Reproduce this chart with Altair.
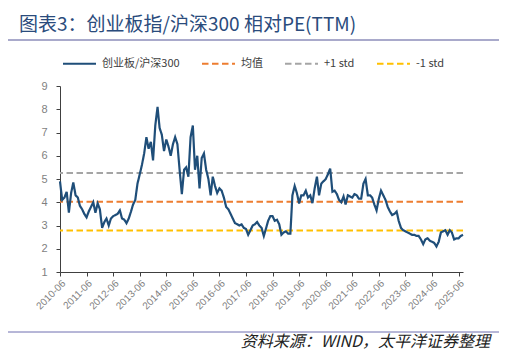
import altair as alt
import pandas as pd

# ---- data ----
start_month = "2010-06-01"
pe_values = [
    4.9, 4.1, 4.2, 4.45, 3.55, 4.4, 4.85, 4.3, 4.2, 3.85, 3.7, 3.5,
    3.35, 3.6, 3.8, 4.0, 3.55, 3.95, 3.7, 2.9, 3.15, 3.3, 3.0, 3.3,
    3.4, 3.45, 3.5, 3.65, 3.3, 3.25, 3.1, 3.3, 3.6, 3.9, 4.1, 4.8,
    5.2, 5.6, 6.1, 6.8, 6.3, 6.6, 5.8, 7.3, 8.1, 7.2, 6.9, 6.2,
    6.7, 6.4, 6.0, 6.5, 6.8, 6.5, 5.4, 4.35, 5.4, 5.5, 5.1, 6.8,
    7.3, 5.4, 6.0, 4.6, 5.9, 6.1, 5.4, 5.0, 4.3, 5.1, 4.7, 4.4,
    4.6, 4.5, 4.2, 3.8, 3.7, 3.5, 3.3, 3.1, 3.05, 3.0, 3.05, 2.9,
    2.85, 2.6, 2.8, 3.0, 3.05, 3.15, 3.0, 2.9, 2.55, 2.85, 3.2, 3.4,
    3.4, 3.2, 3.25, 3.05, 2.6, 2.7, 2.75, 2.65, 2.65, 4.3, 4.7, 4.4,
    3.95, 4.3, 4.3, 4.5, 4.2, 4.3, 3.96, 4.6, 5.1, 4.3, 4.8, 4.9,
    5.0, 5.2, 5.45, 4.45, 4.5, 4.35, 4.1, 4.0, 4.25, 3.9, 4.3, 4.25,
    4.2, 4.35, 4.3, 4.15, 4.15, 4.8, 5.0, 4.3, 4.3, 4.2, 3.9, 3.65,
    4.15, 4.5, 4.3, 4.1, 3.8, 3.6, 3.45, 3.5, 3.6, 3.2, 2.9, 2.8,
    2.75, 2.7, 2.65, 2.6, 2.6, 2.55, 2.55, 2.4, 2.2, 2.4, 2.45, 2.35,
    2.3, 2.25, 2.1, 2.3, 2.7, 2.75, 2.8, 2.6, 2.8, 2.7, 2.4, 2.45,
    2.45, 2.55, 2.6,
]
series_names = ["创业板/沪深300", "均值", "+1 std", "-1 std"]
ref_values = [4.02, 5.26, 2.79]
year_ticks = list(range(2010, 2026))
y_ticks = [1, 2, 3, 4, 5, 6, 7, 8, 9]
title_text = "图表3：创业板指/沪深300 相对PE(TTM)"
source_text = "资料来源：WIND，太平洋证券整理"

# ---- tables ----
dates = pd.date_range(start_month, periods=len(pe_values), freq="MS")
line_df = pd.DataFrame({"date": dates, "value": pe_values, "series": series_names[0]})
ref_df = pd.DataFrame({"value": ref_values, "series": series_names[1:]})

colors = ["#1F4E79", "#ED7D31", "#A5A5A5", "#FFC000"]
dashes = [[1, 0], [6.5, 3.5], [6.5, 3.5], [6.5, 3.5]]

color_enc = alt.Color("series:N", scale=alt.Scale(domain=series_names, range=colors), title=None)
dash_enc = alt.StrokeDash("series:N", scale=alt.Scale(domain=series_names, range=dashes), title=None)

x_enc = alt.X(
    "date:T",
    title=None,
    scale=alt.Scale(domain=[alt.DateTime(year=2010, month=6, date=1),
                            alt.DateTime(year=2025, month=8, date=1)]),
    axis=alt.Axis(values=[alt.DateTime(year=y, month=6, date=1) for y in year_ticks],
                  format="%Y-%m", labelAngle=315, grid=False, labelFontSize=10,
                  labelPadding=2, labelOverlap=False),
)
y_scale = alt.Scale(domain=[1, 9], nice=False, zero=False)
y_axis = alt.Axis(values=y_ticks, grid=False, labelPadding=9, labelOverlap=False)

line = alt.Chart(line_df).mark_line(strokeWidth=2.2).encode(
    x=x_enc,
    y=alt.Y("value:Q", scale=y_scale, axis=y_axis, title=None),
    color=color_enc,
    strokeDash=dash_enc,
)

refs = alt.Chart(ref_df).mark_rule(strokeWidth=2).encode(
    y=alt.Y("value:Q", scale=y_scale, axis=y_axis, title=None),
    color=color_enc,
    strokeDash=dash_enc,
)

title = alt.Chart(pd.DataFrame({"t": [title_text]})).mark_text(
    align="left", baseline="middle", fontSize=19, color="#2A4B7C",
    font="Noto Sans CJK SC",
).encode(x=alt.value(-41), y=alt.value(-61), text="t:N")

title_rule = alt.Chart(pd.DataFrame({"a": [0]})).mark_rule(
    color="#A9AACB", strokeWidth=2
).encode(x=alt.value(-55), x2=alt.value(441), y=alt.value(-46))

bottom_rule = alt.Chart(pd.DataFrame({"a": [0]})).mark_rule(
    color="#6E6EB0", strokeWidth=1
).encode(x=alt.value(-55), x2=alt.value(441), y=alt.value(246))

source = alt.Chart(pd.DataFrame({"t": [source_text]})).mark_text(
    align="right", baseline="middle", fontSize=16, fontStyle="italic",
    color="#222222", font="Noto Sans CJK SC",
).encode(x=alt.value(430), y=alt.value(256), text="t:N")

chart = alt.layer(refs, line, title, title_rule, bottom_rule, source).properties(
    width=403, height=186,
    autosize=alt.AutoSizeParams(type="none"),
    padding={"left": 52, "top": 78, "right": 36, "bottom": 79},
).configure_view(stroke=None).configure_axis(
    domainColor="#404040", tickColor="#404040", labelColor="#7F7F7F",
    labelFontSize=11, tickSize=4, labelFont="Liberation Sans",
).configure_legend(
    orient="none", legendX=2, legendY=-40, direction="horizontal",
    symbolType="stroke", symbolSize=1089, symbolStrokeWidth=2,
    labelFontSize=11, labelColor="#404040", labelFont="Noto Sans CJK SC",
    columnPadding=18, labelOffset=5, padding=0, titleOpacity=0,
)

chart.save("out.html", embed_options={"renderer": "svg", "actions": False})
